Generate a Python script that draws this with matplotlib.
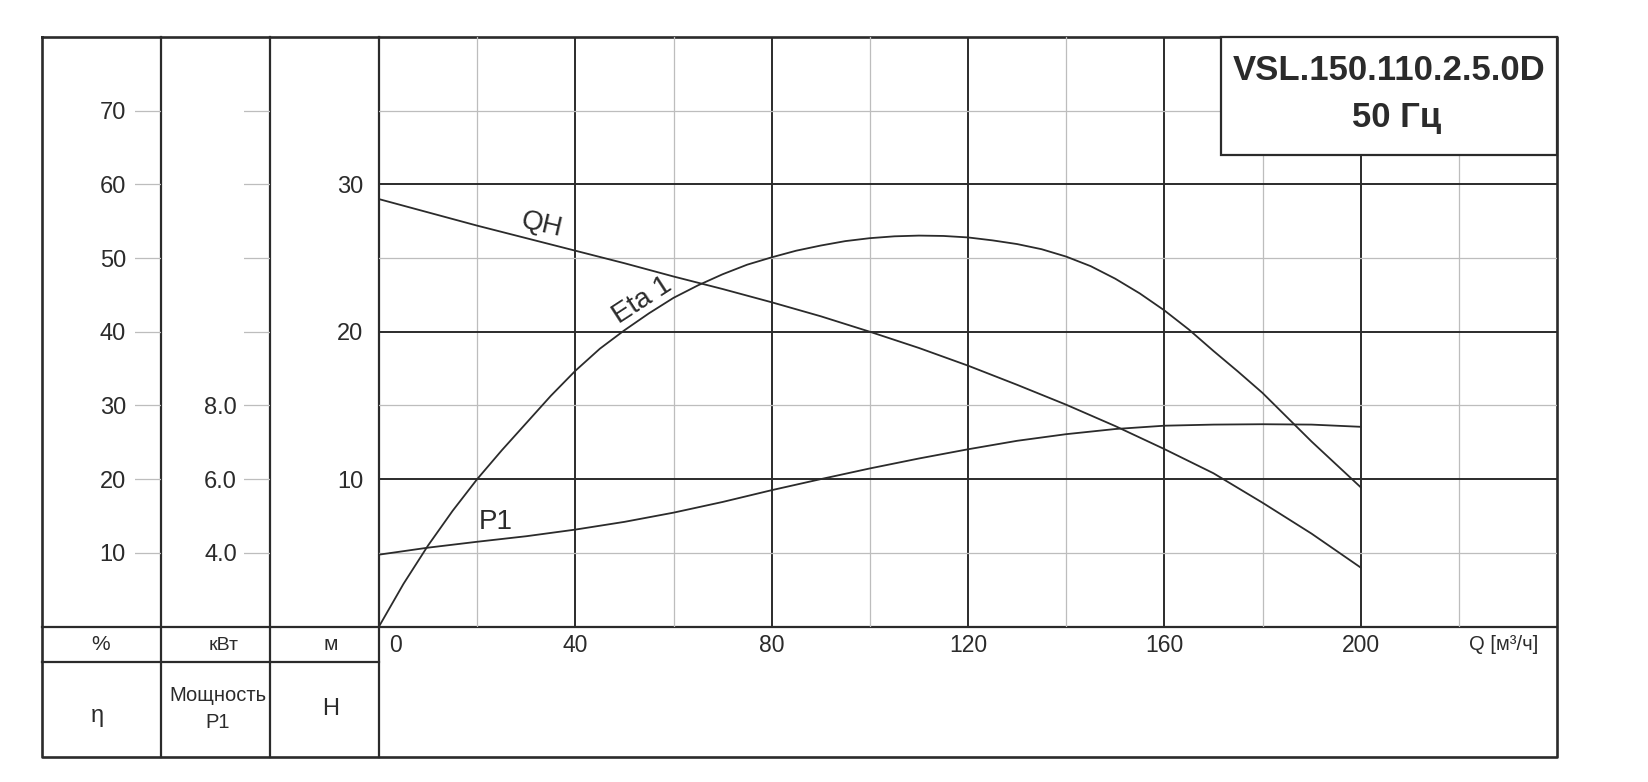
import matplotlib
matplotlib.use("Agg")
import matplotlib.pyplot as plt
from matplotlib.patches import Rectangle
from matplotlib.transforms import ScaledTranslation

# pump curves, Q in m3/h
q_head = [0, 10, 20, 30, 40, 50, 60, 70, 80, 90, 100, 110, 120, 130, 140, 150, 160, 170, 180, 190, 200]
head = [29.0, 28.1, 27.2, 26.35, 25.5, 24.65, 23.75, 22.9, 22.0, 21.05, 20.0, 18.9, 17.7, 16.4,
        15.05, 13.6, 12.04, 10.4, 8.4, 6.3, 4.0]

q_eta = [0, 5, 10, 15, 20, 25, 30, 35, 40, 45, 50, 55, 60, 65, 70, 75, 80, 85, 90, 95, 100,
         105, 110, 115, 120, 125, 130, 135, 140, 145, 150, 155, 160, 165, 170, 175, 180, 185,
         190, 195, 200]
eta = [0, 5.8, 11.0, 15.7, 20.0, 23.9, 27.6, 31.3, 34.7, 37.7, 40.2, 42.5, 44.6, 46.3, 47.8,
       49.1, 50.1, 51.0, 51.7, 52.3, 52.7, 52.95, 53.05, 53.0, 52.8, 52.4, 51.9, 51.2, 50.2,
       48.9, 47.2, 45.2, 42.9, 40.3, 37.4, 34.6, 31.7, 28.4, 25.1, 22.0, 18.9]

q_power = [0, 10, 20, 30, 40, 50, 60, 70, 80, 90, 100, 110, 120, 130, 140, 150, 160, 170, 180, 190, 200]
power = [3.95, 4.14, 4.30, 4.45, 4.63, 4.84, 5.09, 5.38, 5.70, 6.0, 6.29, 6.56, 6.81, 7.04,
         7.22, 7.36, 7.45, 7.48, 7.49, 7.48, 7.42]

q_ticks = [0, 40, 80, 120, 160, 200]
q_minor = [20, 60, 100, 140, 180, 220]
h_ticks = [10, 20, 30]
h_minor = [5, 15, 25, 35]
eta_ticks = [10, 20, 30, 40, 50, 60, 70]
p_lines = [4, 6, 8, 10, 12, 14, 16]
p_labels = ["4.0", "6.0", "8.0", "", "", "", ""]

model = "VSL.150.110.2.5.0D"
freq = "50 Гц"

plt.rcParams["font.family"] = ["Liberation Sans", "DejaVu Sans"]

DARK = "#2b2b2b"
LIGHT = "#bdbdbd"
W, H = 1648, 782
fig = plt.figure(figsize=(W / 100, H / 100), dpi=100)


def px_axes(x0, y0, x1, y1):
    a = fig.add_axes([x0 / W, 1 - y1 / H, (x1 - x0) / W, (y1 - y0) / H])
    a.set_facecolor("none")
    return a


# table frame in pixel coords
bg = fig.add_axes([0, 0, 1, 1])
bg.set_xlim(0, W)
bg.set_ylim(H, 0)
bg.axis("off")
L, R, T, B = 42.5, 1557, 37, 757
bg.plot([L, R, R, L, L], [T, T, B, B, T], color=DARK, lw=1.9)
for x in [161, 270, 379]:
    bg.plot([x, x], [T, B], color=DARK, lw=1.6)
bg.plot([L, R], [626.5, 626.5], color=DARK, lw=1.6)
bg.plot([L, 379], [662, 662], color=DARK, lw=1.6)

bg.text(101, 645, "%", ha="center", va="center", fontsize=15, color=DARK)
bg.text(224, 645, "кВт", ha="center", va="center", fontsize=14, color=DARK)
bg.text(331, 645, "м", ha="center", va="center", fontsize=15, color=DARK)
bg.text(97.5, 716, "η", ha="center", va="center", fontsize=17, color=DARK)
bg.text(218, 709, "Мощность\nP1", ha="center", va="center", fontsize=14.5,
        color=DARK, linespacing=1.5)
bg.text(330.5, 709, "H", ha="center", va="center", fontsize=17, color=DARK)

# main chart
ax = px_axes(379, 37, 1557, 626.5)
ax.set_xlim(0, 240)
ax.set_ylim(0, 40)
for s in ax.spines.values():
    s.set_visible(False)
ax.set_xticks(q_ticks)
ax.set_xticks(q_minor, minor=True)
ax.set_yticks(h_ticks)
ax.set_yticks(h_minor, minor=True)
ax.grid(which="major", color=DARK, lw=1.4)
ax.grid(which="minor", color=LIGHT, lw=0.9)
ax.tick_params(which="both", length=0)
ax.tick_params(axis="y", pad=11.5, labelsize=17, labelcolor=DARK)
ax.tick_params(axis="x", pad=5.5, labelsize=16.5, labelcolor=DARK)
first = ax.get_xticklabels()[0]
first.set_ha("left")
first.set_transform(first.get_transform() + ScaledTranslation(10 / 100, 0, fig.dpi_scale_trans))
ax.text(222, -0.031, "Q [м³/ч]", transform=ax.get_xaxis_transform(), ha="left", va="center",
        fontsize=14.5, color=DARK)

ax.plot(q_head, head, color=DARK, lw=1.3, zorder=3)
ax_eta = ax.twinx()
ax_eta.set_ylim(0, 80)
ax_eta.axis("off")
ax_eta.plot(q_eta, eta, color=DARK, lw=1.3, zorder=3)
ax_p = ax.twinx()
ax_p.set_ylim(2, 18)
ax_p.axis("off")
ax_p.plot(q_power, power, color=DARK, lw=1.3, zorder=3)

ax.text(542, 225, "QH", transform=bg.transData, rotation=-13, ha="center", va="center",
        fontsize=20, color=DARK)
ax.text(642, 300, "Eta 1", transform=bg.transData, rotation=33, ha="center", va="center",
        fontsize=20, color=DARK)
ax.text(496, 522, "P1", transform=bg.transData, ha="center", va="center",
        fontsize=20, color=DARK)

# model box on top of the grid
box = Rectangle((1221, 37), 336, 118, transform=bg.transData, facecolor="white",
                edgecolor=DARK, lw=1.6, zorder=5, clip_on=False)
ax_p.add_patch(box)
ax_p.text(1389, 71, model, transform=bg.transData, ha="center", va="center",
          fontsize=25, fontweight="bold", color=DARK, zorder=6)
ax_p.text(1397, 117, freq, transform=bg.transData, ha="center", va="center",
          fontsize=25, fontweight="bold", color=DARK, zorder=6)

# efficiency column
col_eta = px_axes(135, 37, 161, 626.5)
col_eta.set_ylim(0, 80)
col_eta.set_xticks([])
col_eta.set_yticks(eta_ticks)
col_eta.yaxis.grid(True, color=LIGHT, lw=0.9)
col_eta.tick_params(axis="y", length=0, pad=6.5, labelsize=17, labelcolor=DARK)
for s in col_eta.spines.values():
    s.set_visible(False)

# power column
col_p = px_axes(244, 37, 270, 626.5)
col_p.set_ylim(2, 18)
col_p.set_xticks([])
col_p.set_yticks(p_lines)
col_p.set_yticklabels(p_labels)
col_p.yaxis.grid(True, color=LIGHT, lw=0.9)
col_p.tick_params(axis="y", length=0, pad=5, labelsize=17, labelcolor=DARK)
for s in col_p.spines.values():
    s.set_visible(False)

fig.savefig("out.png", dpi=100)
